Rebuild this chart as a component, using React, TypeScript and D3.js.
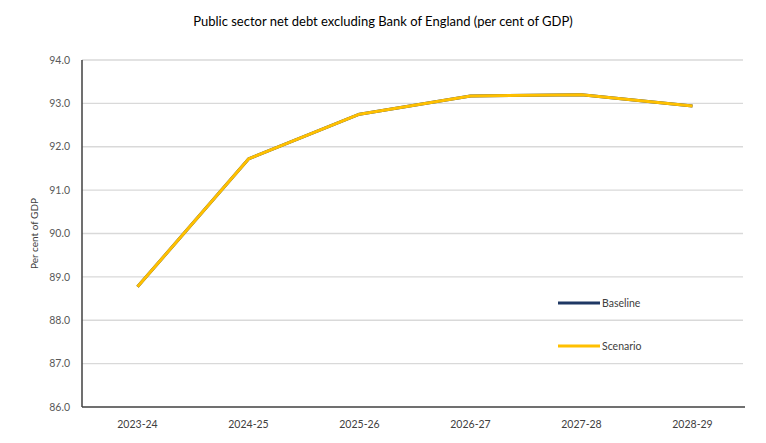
import React from "react";
import * as d3 from "d3";

const categories = ["2023-24", "2024-25", "2025-26", "2026-27", "2027-28", "2028-29"];
const baseline = [88.77, 91.72, 92.75, 93.17, 93.2, 92.94];
const scenario = [88.77, 91.72, 92.75, 93.17, 93.2, 92.94];
const yTicks = [86, 87, 88, 89, 90, 91, 92, 93, 94];
const seriesNames = ["Baseline", "Scenario"];
const seriesColors = ["#1f3864", "#ffc000"];

const W = 766, H = 443;
const left = 82, right = 748, top = 60, bottom = 407;
const font = "Lato, 'Open Sans', sans-serif";

export default function App() {
  const x = d3.scaleBand<string>().domain(categories).range([left, right]);
  const y = d3.scaleLinear().domain([86, 94]).range([bottom, top]);
  const line = d3
    .line<number>()
    .x((_, i) => (x(categories[i]) as number) + x.bandwidth() / 2)
    .y((d) => y(d));
  const gridRight = 743;
  return (
    <svg width={W} height={H} style={{ position: "absolute", left: 0, top: 0, background: "#fff" }}>
      <rect width={W} height={H} fill="#fff" />
      <text x={383} y={26} textAnchor="middle" fontFamily={font} fontSize={13} fill="#000">
        Public sector net debt excluding Bank of England (per cent of GDP)
      </text>
      {yTicks.map((t) => (
        <g key={t}>
          {t !== 86 && (
            <line x1={left} x2={gridRight} y1={y(t)} y2={y(t)} stroke="#d9d9d9" strokeWidth={1.3} />
          )}
          <text x={70} y={y(t)} dy="0.35em" textAnchor="end" fontFamily={font} fontSize={10.5} fill="#595959">
            {t.toFixed(1)}
          </text>
        </g>
      ))}
      <line x1={left} x2={left} y1={top} y2={bottom} stroke="#404040" strokeWidth={1.5} />
      <line x1={left} x2={right - 3} y1={bottom} y2={bottom} stroke="#404040" strokeWidth={1.5} />
      {categories.map((c) => (
        <text
          key={c}
          x={(x(c) as number) + x.bandwidth() / 2}
          y={bottom + 21}
          textAnchor="middle"
          fontFamily={font}
          fontSize={10.5}
          fill="#404040"
        >
          {c}
        </text>
      ))}
      <text
        transform={`translate(38,${(top + bottom) / 2}) rotate(-90)`}
        textAnchor="middle"
        fontFamily={font}
        fontSize={10}
        fill="#404040"
      >
        Per cent of GDP
      </text>
      <path d={line(baseline) || ""} fill="none" stroke={seriesColors[0]} strokeWidth={3} strokeLinejoin="round" />
      <path d={line(scenario) || ""} fill="none" stroke={seriesColors[1]} strokeWidth={3} strokeLinejoin="round" />
      {seriesNames.map((n, i) => (
        <g key={n}>
          <line x1={558} x2={600} y1={303 + i * 43} y2={303 + i * 43} stroke={seriesColors[i]} strokeWidth={3} />
          <text x={602} y={303 + i * 43} dy="0.35em" fontFamily={font} fontSize={10.5} fill="#404040">
            {n}
          </text>
        </g>
      ))}
    </svg>
  );
}
